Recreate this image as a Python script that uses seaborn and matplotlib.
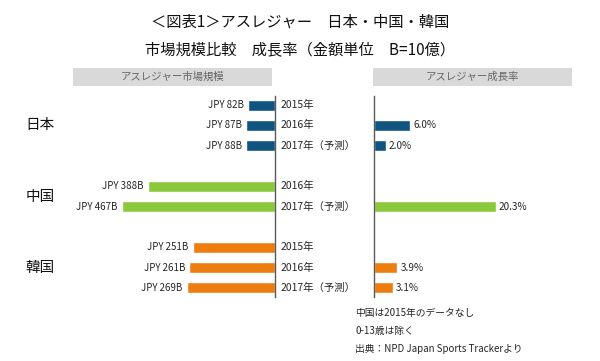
import numpy as np
import pandas as pd
import matplotlib
matplotlib.use("Agg")
import matplotlib.pyplot as plt
import matplotlib.transforms as mtransforms
from matplotlib.patches import Rectangle
import seaborn as sns

# data
countries = ['日本', '日本', '日本', '中国', '中国', '韓国', '韓国', '韓国']
years = ['2015年', '2016年', '2017年（予測）', '2016年', '2017年（予測）',
         '2015年', '2016年', '2017年（予測）']
market_size = [82, 87, 88, 388, 467, 251, 261, 269]          # JPY billions
growth_rate = [np.nan, 6.0, 2.0, np.nan, 20.3, np.nan, 3.9, 3.1]  # %
country_order = ['日本', '中国', '韓国']
palette = {'日本': '#105480', '中国': '#8cc83c', '韓国': '#ee7d10'}
notes = ['中国は2015年のデータなし', '0-13歳は除く', '出典：NPD Japan Sports Trackerより']

sns.set_style('white')
plt.rcParams['font.family'] = ['Noto Sans CJK JP', 'DejaVu Sans']

df = pd.DataFrame({'country': countries, 'year': years,
                   'size': market_size, 'growth': growth_rate})
df['row'] = df['country'] + ' ' + df['year']

# row order with an empty slot between countries
order = []
for i, c in enumerate(country_order):
    if i > 0:
        order.append('gap%d' % i)
    order += list(df.loc[df['country'] == c, 'row'])

W, H = 600, 361
fig = plt.figure(figsize=(6, 3.61), dpi=100)


def px_axes(x0, x1, y0, y1):
    return fig.add_axes([x0 / W, 1 - y1 / H, (x1 - x0) / W, (y1 - y0) / H])


ax_l = px_axes(73, 275, 96, 297)
ax_r = px_axes(374, 572, 96, 297)

sns.barplot(data=df, x='size', y='row', hue='country', palette=palette,
            order=order, dodge=False, width=0.55, legend=False, ax=ax_l,
            saturation=1)
sns.barplot(data=df.dropna(subset=['growth']), x='growth', y='row', hue='country',
            palette=palette, order=order, dodge=False, width=0.55, legend=False,
            ax=ax_r, saturation=1)

ax_l.set_xlim(467 / 153 * 202, 0)
ax_r.set_xlim(0, 20.3 / 122 * 198)
for ax in (ax_l, ax_r):
    ax.set_ylim(len(order) - 0.55, -0.45)
    ax.set_xlabel('')
    ax.set_ylabel('')
    ax.set_xticks([])
    ax.set_yticks([])
    ax.set_facecolor('none')
    for s in ax.spines.values():
        s.set_visible(False)
ax_l.spines['right'].set_visible(True)
ax_r.spines['left'].set_visible(True)
for s in (ax_l.spines['right'], ax_r.spines['left']):
    s.set_color('#595959')
    s.set_linewidth(1)

pos = {r: i for i, r in enumerate(order)}
for _, r in df.iterrows():
    y = pos[r['row']]
    ax_l.annotate('JPY %dB' % r['size'], xy=(r['size'], y), xytext=(-4, 0),
                  textcoords='offset pixels', ha='right', va='center',
                  fontsize=7, color='#262626')
    ax_l.annotate(r['year'], xy=(1, y), xycoords=('axes fraction', 'data'),
                  xytext=(6, 0), textcoords='offset pixels', ha='left',
                  va='center', fontsize=7.5, color='#262626')
    if not np.isnan(r['growth']):
        ax_r.annotate('%.1f%%' % r['growth'], xy=(r['growth'], y), xytext=(3, 0),
                      textcoords='offset pixels', ha='left', va='center',
                      fontsize=7.2, color='#262626')

# country labels
tr = mtransforms.blended_transform_factory(fig.transFigure, ax_l.transData)
for c in country_order:
    ys = [pos[r] for r in df.loc[df['country'] == c, 'row']]
    ax_l.text(40 / W, np.mean(ys), c, transform=tr, ha='center', va='center',
              fontsize=10.5, color='#111111')

# header boxes
for x0, x1, label in [(73, 272, 'アスレジャー市場規模'), (373, 572, 'アスレジャー成長率')]:
    fig.add_artist(Rectangle((x0 / W, 1 - 86 / H), (x1 - x0) / W, 18 / H,
                             transform=fig.transFigure, facecolor='#d9d9d9',
                             edgecolor='none'))
    fig.text((x0 + x1) / 2 / W, 1 - 77 / H, label, ha='center', va='center',
             fontsize=7.5, color='#666666')

fig.text(0.5, 1 - 22 / H, '＜図表1＞アスレジャー　日本・中国・韓国',
         ha='center', va='center', fontsize=11, color='#111111')
fig.text(0.5, 1 - 50 / H, '市場規模比較　成長率（金額単位　B=10億）',
         ha='center', va='center', fontsize=11, color='#111111')

for i, n in enumerate(notes):
    fig.text(355 / W, 1 - (313 + 18 * i) / H, n, ha='left', va='center',
             fontsize=7, color='#262626')

fig.savefig('out.png', dpi=100, facecolor='white')
